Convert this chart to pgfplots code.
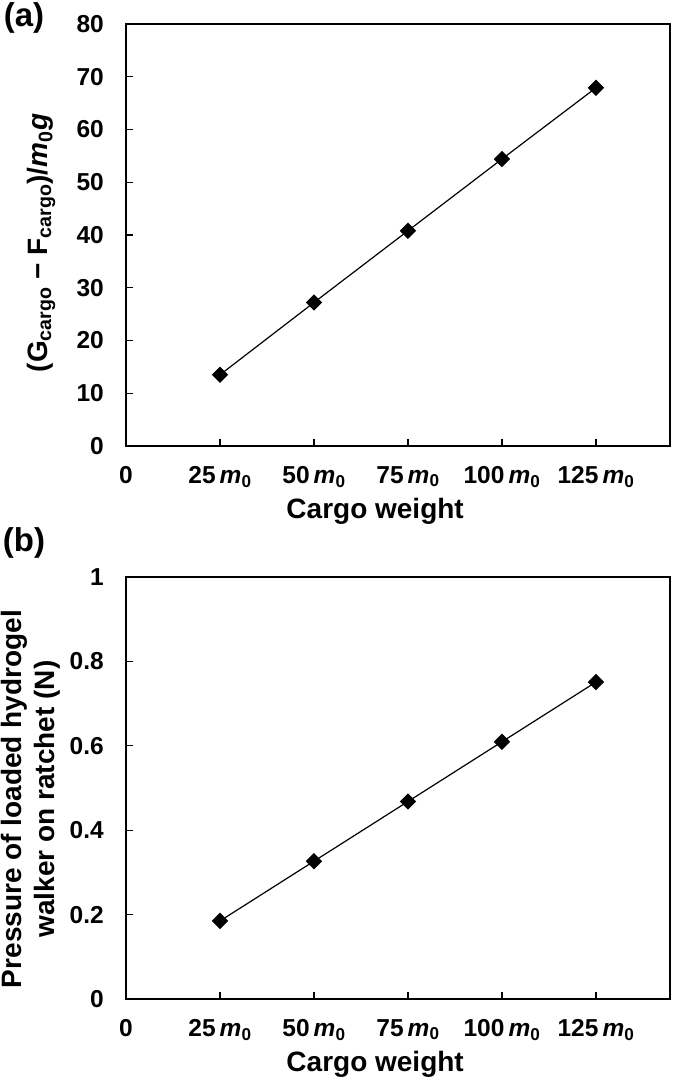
\documentclass[border=0pt]{standalone}
\usepackage{fontspec}
\setmainfont{Liberation Sans}
\usepackage{pgfplots}
\pgfplotsset{compat=1.18}
\pgfplotsset{
  myaxis/.style={
    anchor=south west,
    width=544pt, height=422pt, scale only axis,
    xmin=0, xmax=144.7,
    xtick={0,25,50,75,100,125},
    xticklabels={0, 25\,\textit{m}\textsubscript{0}, 50\,\textit{m}\textsubscript{0}, 75\,\textit{m}\textsubscript{0}, 100\,\textit{m}\textsubscript{0}, 125\,\textit{m}\textsubscript{0}},
    tick align=inside, xtick pos=bottom, ytick pos=left,
    major tick length=7pt,
    axis line style={line width=1.3pt},
    tick style={line width=1.2pt, black},
    ticklabel style={font=\fontsize{24.5}{28}\selectfont\bfseries},
    yticklabel style={anchor=east, inner sep=0pt, xshift=-22pt},
    xticklabel style={anchor=north, inner sep=0pt, yshift=-20pt},
    label style={font=\fontsize{28}{33}\selectfont\bfseries},
    xlabel style={at={(axis description cs:0.458,0)}, anchor=center, yshift=-65pt},
    clip=false,
  }
}
\begin{document}
\begin{tikzpicture}[x=1pt,y=1pt]
\useasboundingbox (0,0) rectangle (675,1087);
\begin{axis}[myaxis, at={(126pt,641pt)},
  ymin=0, ymax=80, ytick={0,10,...,80},
  yticklabels={0,10,20,30,40,50,60,70,80},
  xlabel={Cargo weight},
  ylabel={(G\textsubscript{cargo} − F\textsubscript{cargo})/\textit{m}\textsubscript{0}\textit{g}},
  ylabel style={at={(axis description cs:-0.156,0.481)}, anchor=center},
]
\addplot[black, line width=1.2pt, mark=square*, mark size=5.2pt, mark options={rotate=45, solid, fill=black}]
  coordinates {(25,13.5)(50,27.2)(75,40.8)(100,54.4)(125,67.9)};
\draw[line width=2.4pt] (rel axis cs:0,1) -- (rel axis cs:0,0) -- (rel axis cs:1,0);
\end{axis}
\begin{axis}[myaxis, at={(126pt,88pt)},
  ymin=0, ymax=1, ytick={0,0.2,...,1},
  yticklabels={0,0.2,0.4,0.6,0.8,1},
  xlabel={Cargo weight},
  ylabel={Pressure of loaded hydrogel\\walker on ratchet (N)},
  ylabel style={at={(axis description cs:-0.1746,0.474)}, anchor=center, align=center},
]
\addplot[black, line width=1.2pt, mark=square*, mark size=5.2pt, mark options={rotate=45, solid, fill=black}]
  coordinates {(25,0.185)(50,0.3265)(75,0.468)(100,0.6095)(125,0.751)};
\draw[line width=2.4pt] (rel axis cs:0,1) -- (rel axis cs:0,0) -- (rel axis cs:1,0);
\end{axis}
\node[font=\fontsize{33}{38}\selectfont\bfseries] at (24,1069) {(a)};
\node[font=\fontsize{33}{38}\selectfont\bfseries] at (24,544) {(b)};
\end{tikzpicture}
\end{document}
